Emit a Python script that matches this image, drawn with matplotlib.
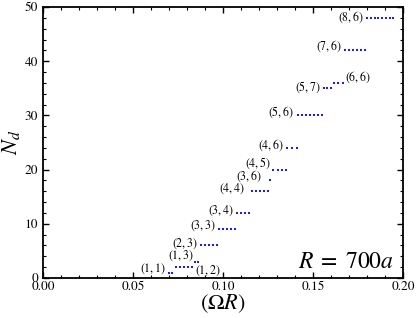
import matplotlib
matplotlib.use("Agg")
from matplotlib import pyplot as plt

# (n, m) label, N_d level, and the OmegaR values of the dots on that level
labels = ["(1,1)", "(1,2)", "(1,3)", "(2,3)", "(3,3)", "(3,4)", "(4,4)", "(3,6)",
          "(4,5)", "(4,6)", "(5,6)", "(5,7)", "(6,6)", "(7,6)", "(8,6)"]
n_d = [1, 2, 3, 6, 9, 12, 16, 18, 20, 24, 30, 35, 36, 42, 48]
omega_r = [
    [0.0700, 0.0718],
    [0.0737, 0.0759, 0.0781, 0.0804, 0.0826],
    [0.0845, 0.0862],
    [0.0876, 0.0898, 0.0920, 0.0943, 0.0965],
    [0.0978, 0.1000, 0.1022, 0.1045, 0.1067],
    [0.1076, 0.1099, 0.1122, 0.1146],
    [0.1160, 0.1182, 0.1204, 0.1226, 0.1248],
    [0.1260],
    [0.1280, 0.1303, 0.1325, 0.1348],
    [0.1357, 0.1383, 0.1410],
    [0.1418, 0.1440, 0.1461, 0.1483, 0.1505, 0.1526, 0.1548],
    [0.1560, 0.1580, 0.1600],
    [0.1618, 0.1641, 0.1665],
    [0.1680, 0.1702, 0.1724, 0.1746, 0.1768, 0.1790],
    [0.1800, 0.1821, 0.1842, 0.1863, 0.1884, 0.1905, 0.1926, 0.1946],
]
# label anchor points (x, y)
label_x = [0.0683, 0.0845, 0.0766, 0.0861, 0.0959, 0.1057, 0.1122, 0.1215,
           0.1267, 0.1335, 0.1394, 0.1543, 0.1678, 0.1659, 0.1783]
label_y = [1.7, 1.35, 4.2, 6.4, 9.6, 12.5, 16.4, 18.7, 21.2, 24.5, 30.6, 35.2, 37.1, 42.7, 48.2]
label_ha = ["right", "left", "center", "right", "right", "right", "right", "right",
            "right", "right", "right", "right", "left", "right", "right"]

plt.rcParams["mathtext.fontset"] = "stix"
plt.rcParams["font.family"] = "STIXGeneral"

fig = plt.figure(figsize=(4.16, 3.18), dpi=100)
ax = fig.add_axes([0.1034, 0.1258, 0.8654, 0.8522])

for xs, n in zip(omega_r, n_d):
    ax.plot(xs, [n] * len(xs), ls="none", marker="s", ms=2.0,
            mew=0, color="#1a1aff")

for lab, x, y, ha in zip(labels, label_x, label_y, label_ha):
    ax.text(x, y, "$" + lab + "$", ha=ha, va="center", fontsize=8.5)

ax.text(0.195, 2.9, "$R\\;=\\;700a$", ha="right", va="center", fontsize=17)

ax.set_xlim(0, 0.2)
ax.set_ylim(0, 50)
ax.set_xticks([0, 0.05, 0.1, 0.15, 0.2])
ax.set_xticklabels(["0.00", "0.05", "0.10", "0.15", "0.20"])
ax.set_yticks([0, 10, 20, 30, 40, 50])
ax.set_xticks([i * 0.01 for i in range(21)], minor=True)
ax.set_yticks(range(0, 51, 2), minor=True)
ax.tick_params(which="both", direction="in", top=True, right=True, labelsize=9.5)
ax.tick_params(which="major", length=4, width=1)
ax.tick_params(which="minor", length=2.5, width=0.8)
ax.tick_params(axis="x", pad=2)
for s in ax.spines.values():
    s.set_linewidth(1.3)

ax.set_xlabel(r"$(\Omega R)$", fontsize=16, labelpad=0)
ax.set_ylabel(r"$N_d$", fontsize=16, labelpad=2)

fig.savefig("out.png", dpi=100)
